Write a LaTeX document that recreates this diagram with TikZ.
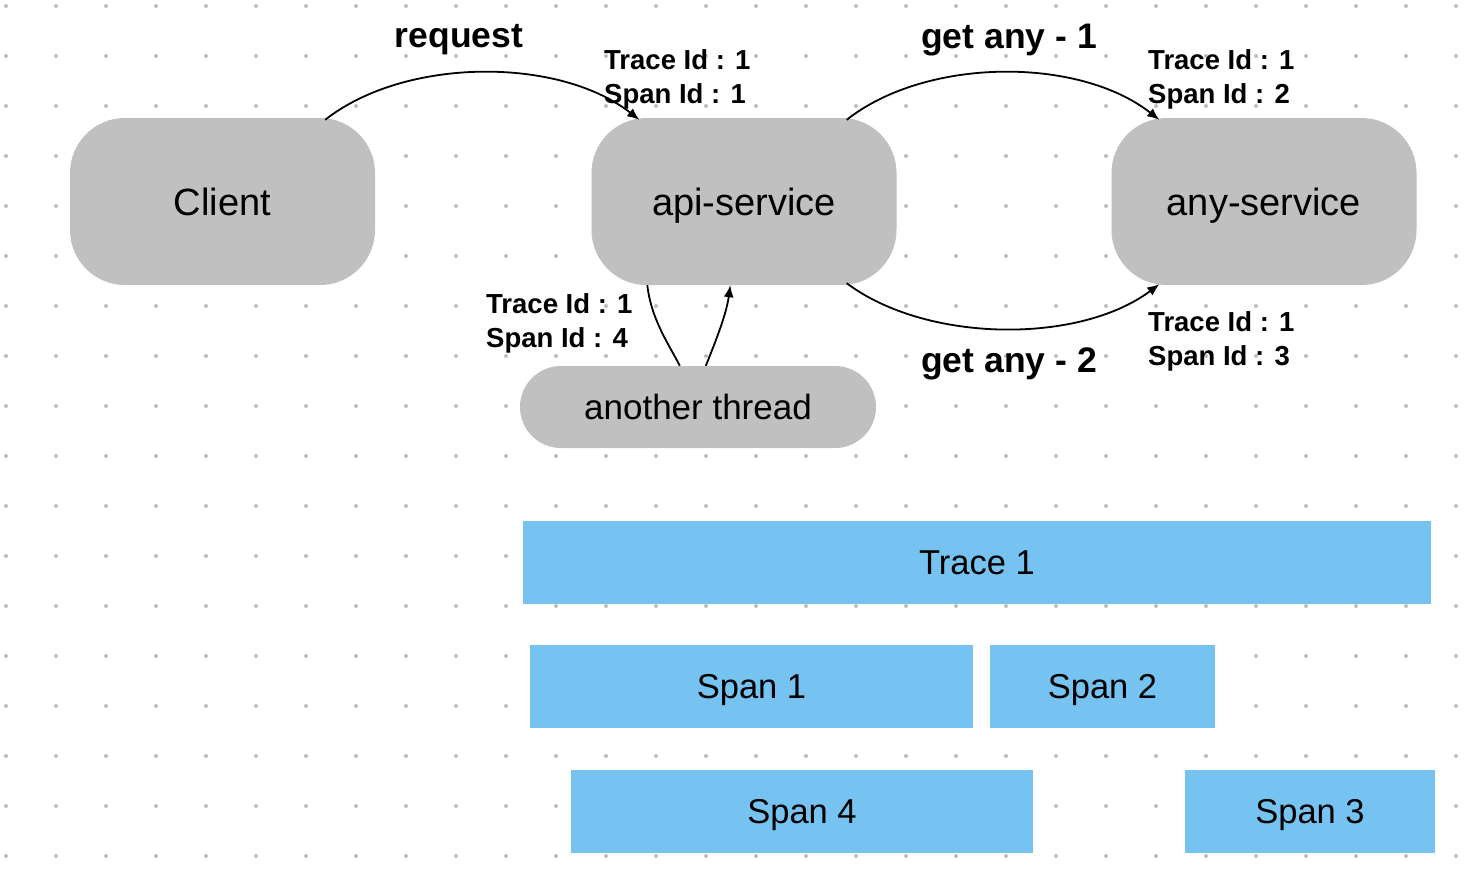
\documentclass[tikz,border=0pt]{standalone}
\usepackage{fontspec}
\setmainfont{Liberation Sans}
\usetikzlibrary{arrows.meta}
\definecolor{boxgray}{HTML}{C0C0C0}
\definecolor{spanblue}{HTML}{76C2F0}
\definecolor{dotgray}{HTML}{BDBDBD}
\begin{document}
\begin{tikzpicture}[x=1pt,y=-1pt,
  svc/.style={fill=boxgray, rounded corners=55pt, minimum width=305pt, minimum height=167pt, inner sep=0pt, text height=27.4pt, text depth=0pt, font=\fontsize{38}{44}\selectfont},
  thread/.style={fill=boxgray, rounded corners=41pt, minimum width=356pt, minimum height=82pt, inner sep=0pt, text height=25.2pt, text depth=0pt, font=\fontsize{35}{40}\selectfont},
  bar/.style={fill=spanblue, inner sep=0pt, minimum height=83pt, text height=24.8pt, text depth=0pt, font=\fontsize{34.5}{40}\selectfont},
  lbl/.style={font=\bfseries\fontsize{35.5}{40}\selectfont, inner sep=0pt},
  ids/.style={font=\bfseries\fontsize{27.5}{34}\selectfont, align=left, anchor=west, inner sep=0pt},
  conn/.style={line width=1.8pt, -{Latex[length=12pt,width=10pt]}},
  plain/.style={line width=1.8pt}]
\useasboundingbox (0,0) rectangle (1478,886);
\fill[white] (0,0) rectangle (1478,886);
\foreach \i in {0,...,29} {
  \foreach \j in {0,...,17} {
    \fill[dotgray] (6+50*\i, 6+50*\j) circle (2pt);
  }
}
% service nodes
\node[svc] (client) at (222.5,201.5) {Client};
\node[svc] (api) at (744,201.5) {api-service};
\node[svc] (any) at (1264,201.5) {any-service};
\node[thread] (thread) at (698,407) {another thread};
% bars
\node[bar, minimum width=908pt] (trace1) at (977,562.5) {Trace 1};
\node[bar, minimum width=443pt] (span1) at (751.5,686.5) {Span 1};
\node[bar, minimum width=225pt] (span2) at (1102.5,686.5) {Span 2};
\node[bar, minimum width=462pt] (span4) at (802,811.5) {Span 4};
\node[bar, minimum width=250pt] (span3) at (1310,811.5) {Span 3};
% connectors
\draw[conn] ([xshift=-50pt,yshift=-2pt]client.north east) .. controls +(80,-63) and +(-80,-63) .. ([xshift=48pt,yshift=-2pt]api.north west);
\draw[conn] ([xshift=-50pt,yshift=-2pt]api.north east) .. controls +(80,-63) and +(-80,-63) .. ([xshift=48pt,yshift=-2pt]any.north west);
\draw[conn] ([xshift=-50pt,yshift=2pt]api.south east) .. controls +(80,60) and +(-80,60) .. ([xshift=48pt,yshift=1pt]any.south west);
\draw[plain] ([xshift=56pt]api.south west) .. controls +(4,35) and +(-10,-20) .. ([xshift=160pt]thread.north west);
\draw[conn] ([xshift=186pt]thread.north west) .. controls +(8,-20) and +(-4,30) .. ([xshift=139pt]api.south west);
% labels
\node[lbl] (lreq) at (459,40) {request};
\node[lbl] (lget1) at (1009,40) {get any - 1};
\node[lbl] (lget2) at (1009,364) {get any - 2};
\node[ids] (id1) at (604,79) {Trace Id : 1\\Span Id : 1};
\node[ids] (id2) at (1148,79) {Trace Id : 1\\Span Id : 2};
\node[ids] (id4) at (486,323.5) {Trace Id : 1\\Span Id : 4};
\node[ids] (id3) at (1148,341.5) {Trace Id : 1\\Span Id : 3};
\end{tikzpicture}
\end{document}
